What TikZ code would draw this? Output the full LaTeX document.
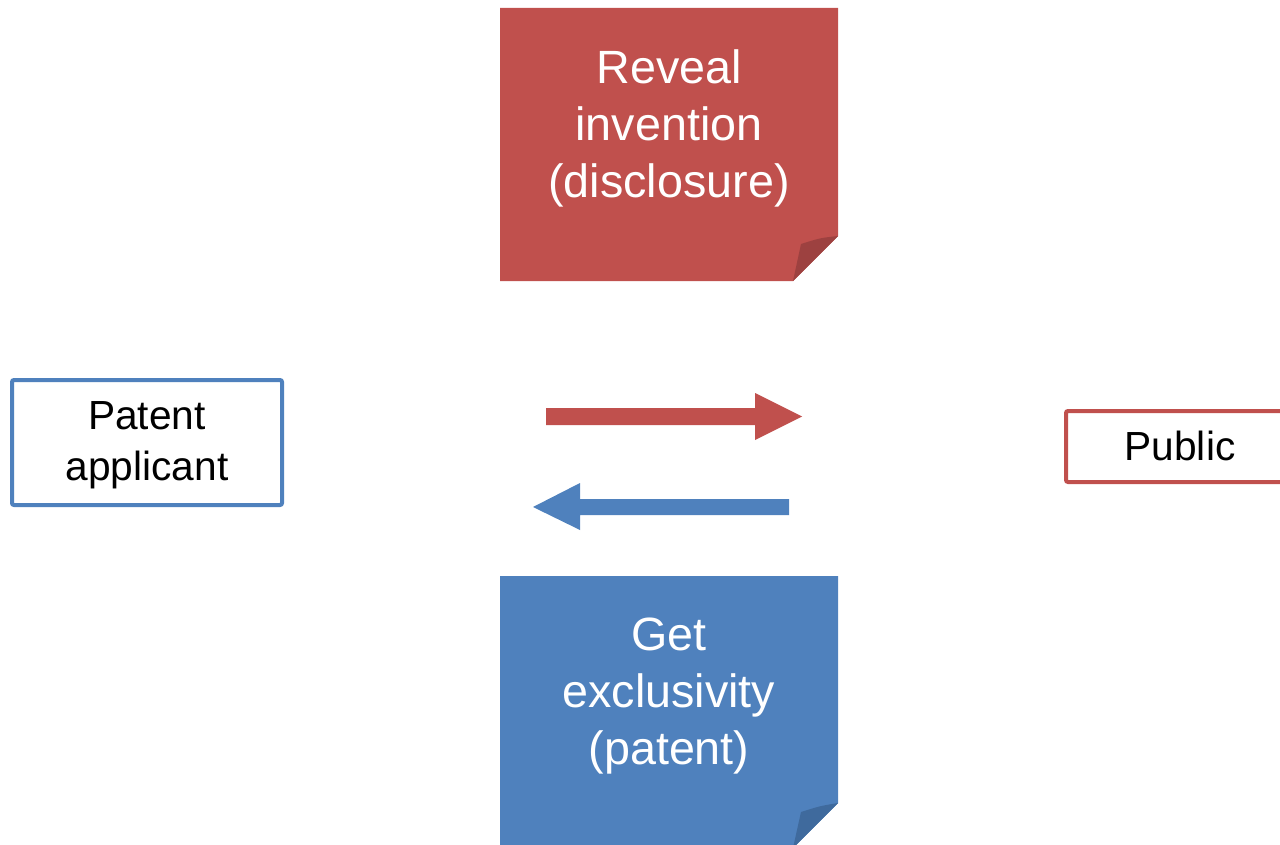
\documentclass[tikz,border=0pt]{standalone}
\usepackage{fontspec}
\setmainfont{Liberation Sans}
\definecolor{ored}{HTML}{C0504D}
\definecolor{oblue}{HTML}{4F81BD}
\definecolor{oreddark}{HTML}{9D4140}
\definecolor{obluedark}{HTML}{3F6A9D}
\begin{document}
\begin{tikzpicture}[x=0.75pt,y=-0.75pt,
  notetext/.style={text=white,align=center,font=\fontsize{35}{42.75}\selectfont,inner sep=0pt},
  boxtext/.style={text=black,align=center,font=\fontsize{30.5}{38}\selectfont,inner sep=0pt},
  frame/.style={line width=3pt,rounded corners=1.5pt,fill=white}]
\useasboundingbox (0,0) rectangle (1280,845);
% red note
\fill[ored] (500,8) -- (838,8) -- (838,236) -- (793,281) -- (500,281) -- cycle;
\fill[oreddark] (838,236) .. controls (820,238) .. (801,244) .. controls (797,262) .. (793,281) -- cycle;
\node[notetext] (reveal) at (669,128) {Reveal\\invention\\(disclosure)};
% blue note
\fill[oblue] (500,576) -- (838,576) -- (838,803) -- (793,848) -- (500,848) -- cycle;
\fill[obluedark] (838,803) .. controls (820,806) .. (801,812) .. controls (797,830) .. (793,848) -- cycle;
\node[notetext] (get) at (669,696) {Get\\exclusivity\\(patent)};
% boxes
\draw[frame,draw=oblue] (12,380) rectangle (282,505);
\node[boxtext] (app) at (147,445) {Patent\\applicant};
\draw[frame,draw=ored] (1066,411) rectangle (1295,482);
\node[boxtext] (pub) at (1180,446) {Public};
% arrows
\coordinate (ra) at (546,416.5);
\coordinate (rb) at (802,416.5);
\fill[ored] (546,408) -- (755,408) -- (755,393) -- (rb) -- (755,440) -- (755,425) -- (546,425) -- cycle;
\coordinate (bb) at (533,507);
\fill[oblue] (789,499) -- (580,499) -- (580,483) -- (bb) -- (580,530) -- (580,515) -- (789,515) -- cycle;
\end{tikzpicture}
\end{document}
